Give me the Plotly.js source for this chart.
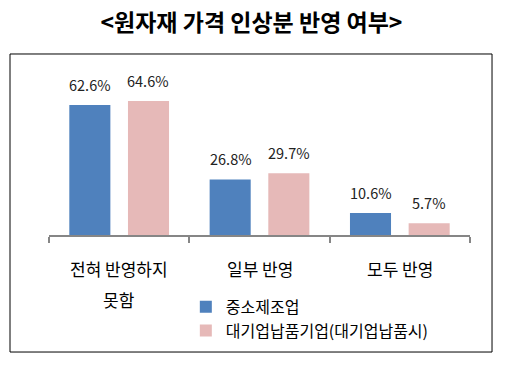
<!DOCTYPE html>
<html>
<head>
<meta charset="utf-8">
<script src="https://cdn.plot.ly/plotly-3.0.1.min.js"></script>
<style>html,body{margin:0;padding:0;background:#fff;}#chart{width:509px;height:370px;}</style>
</head>
<body>
<div id="chart"></div>
<script>
const categoryLines = [['전혀 반영하지', '못함'], ['일부 반영'], ['모두 반영']];
const categories = categoryLines.map(l => l.join(' '));
const seriesNames = ['중소제조업', '대기업납품기업(대기업납품시)'];
const smeValues = [62.6, 26.8, 10.6];
const supplierValues = [64.6, 29.7, 5.7];
const seriesColors = ['#4F81BD', '#E6B9B8'];

const font = '"Noto Sans CJK KR", "Noto Sans", sans-serif';
const valueSets = [smeValues, supplierValues];

const traces = valueSets.map((vals, i) => ({
  type: 'bar',
  x: categories,
  y: vals,
  name: seriesNames[i],
  marker: {color: seriesColors[i]},
  hoverinfo: 'skip'
}));

const shifts = [-29, 29];
const annotations = [];
valueSets.forEach((vals, i) => {
  vals.forEach((v, j) => {
    annotations.push({
      x: categories[j], y: v, xref: 'x', yref: 'y',
      text: v.toFixed(1) + '%', showarrow: false,
      xshift: shifts[i], yshift: 8, yanchor: 'bottom',
      font: {family: font, size: 14.5, color: '#222222'}
    });
  });
});
// category labels (two-line label with the wide line spacing of the original)
categoryLines.forEach((lines, j) => {
  lines.forEach((line, k) => {
    annotations.push({
      x: categories[j], y: 0, xref: 'x', yref: 'paper',
      text: line, showarrow: false, yanchor: 'middle',
      yshift: -33 - 31 * k,
      font: {family: font, size: 17, color: '#000000'}
    });
  });
});

const layout = {
  width: 509, height: 370,
  margin: {l: 49, r: 39, t: 69, b: 135},
  paper_bgcolor: '#ffffff', plot_bgcolor: '#ffffff',
  title: {text: '<b>&lt;원자재 가격 인상분 반영 여부&gt;</b>', x: 0.494, xanchor: 'center', y: 0.938, yanchor: 'middle', yref: 'container',
    font: {family: font, size: 23, color: '#000000'}},
  bargap: 0.164, bargroupgap: 0.3,
  barmode: 'group',
  xaxis: {
    type: 'category', range: [-0.5, 2.5],
    showline: true, linecolor: '#868686', linewidth: 2,
    ticks: 'outside', tickson: 'boundaries', ticklen: 6, tickcolor: '#868686', tickwidth: 2,
    showticklabels: false,
    showgrid: false, zeroline: false, fixedrange: true
  },
  yaxis: {range: [0, 80], visible: false, showgrid: false, zeroline: false, fixedrange: true},
  showlegend: true,
  legend: {x: 0.325, y: -0.33, xanchor: 'left', yanchor: 'top', orientation: 'v',
    bgcolor: 'rgba(0,0,0,0)', font: {family: font, size: 16, color: '#000000'},
    itemwidth: 30, tracegroupgap: 0},
  annotations: annotations,
  shapes: [{type: 'rect', xref: 'paper', yref: 'paper', x0: -0.0926, x1: 1.0523, y0: -0.705, y1: 1.0904,
    line: {color: '#000000', width: 1}, fillcolor: 'rgba(0,0,0,0)', layer: 'below'}]
};

Plotly.newPlot('chart', traces, layout, {staticPlot: true, displayModeBar: false});
</script>
</body>
</html>
